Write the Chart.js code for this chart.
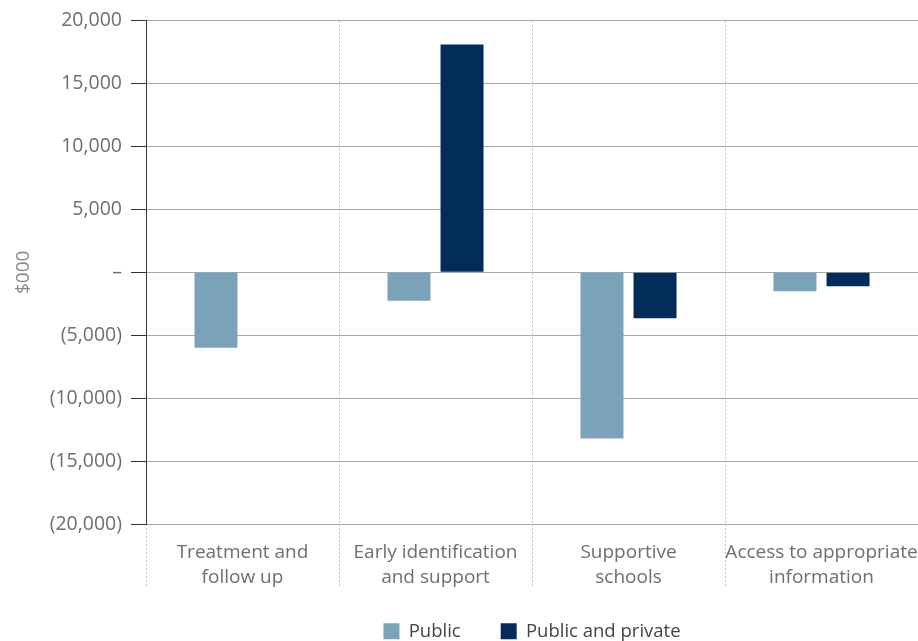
<!DOCTYPE html>
<html>
<head>
<meta charset="utf-8">
<script src="https://cdn.jsdelivr.net/npm/chart.js@4/dist/chart.umd.min.js"></script>
<style>
  html, body { margin: 0; padding: 0; background: #fff; }
  #wrap { width: 918px; height: 641px; }
</style>
</head>
<body>
<div id="wrap"><canvas id="chart"></canvas></div>
<script>
// ============================
// DATA
// ============================
const categories = [
  ["Treatment and", "follow up"],
  ["Early identification", "and support"],
  ["Supportive", "schools"],
  ["Access to appropriate", "information"]
];
const publicValues = [-6000, -2250, -13200, -1500];
const publicPrivateValues = [null, 18100, -3650, -1100];
const seriesNames = ["Public", "Public and private"];
const yTicks = { min: -20000, max: 20000, step: 5000 };

// ============================
// HELPERS
// ============================
const textGrey = "#6d6e71";
const fontFamily = "'Open Sans', sans-serif";

function fmtTick(v){
  if(v === 0) return "\u2013";
  const s = Math.abs(v).toLocaleString("en-US");
  return v < 0 ? `(${s})` : s;
}

// ============================
// CHART
// ============================
const chart = new Chart(document.getElementById("chart"), {
  type: "bar",
  data: {
    labels: categories,
    datasets: [
      { label: seriesNames[0], data: publicValues, backgroundColor: "#7aa3b9" },
      { label: seriesNames[1], data: publicPrivateValues, backgroundColor: "#022d5a" }
    ]
  },
  options: {
    responsive: true,
    maintainAspectRatio: false,
    animation: false,
    categoryPercentage: 0.55,
    barPercentage: 0.81,
    layout: { padding: { top: 9, right: 0, bottom: 0, left: 0 } },
    plugins: {
      tooltip: { enabled: false },
      legend: {
        position: "bottom",
        fullSize: false,
        maxHeight: 59,
        labels: {
          boxWidth: 16,
          boxHeight: 16,
          padding: 40,
          color: "#444",
          font: { family: fontFamily, size: 18.5 }
        }
      }
    },
    scales: {
      x: {
        grid: {
          offset: true,
          color: "#c4c4c4",
          tickColor: "#c4c4c4",
          tickLength: 62,
          tickBorderDash: [2, 2]
        },
        border: { display: false, dash: [2, 2] },
        ticks: {
          color: textGrey,
          padding: -45,
          maxRotation: 0,
          autoSkip: false,
          font: { family: fontFamily, size: 19, lineHeight: 1.27 }
        },
        afterFit: s => {
          s.height = 58;
          // labels run a little below the axis box, don't clip them
          s._computeLabelArea = () => null;
        }
      },
      y: {
        min: yTicks.min,
        max: yTicks.max,
        grid: {
          color: "#a8a8a8",
          tickColor: "#333",
          tickLength: 15
        },
        border: { display: true, color: "#333", width: 1 },
        ticks: {
          stepSize: yTicks.step,
          color: textGrey,
          padding: 9,
          font: { family: fontFamily, size: 19.5 },
          callback: v => fmtTick(v)
        },
        title: {
          display: true,
          text: "$000",
          color: "#8a8a8d",
          padding: { top: 12, bottom: 0 },
          font: { family: fontFamily, size: 19 }
        },
        afterFit: s => { s.width = 146; }
      }
    }
  }
});
</script>
</body>
</html>
